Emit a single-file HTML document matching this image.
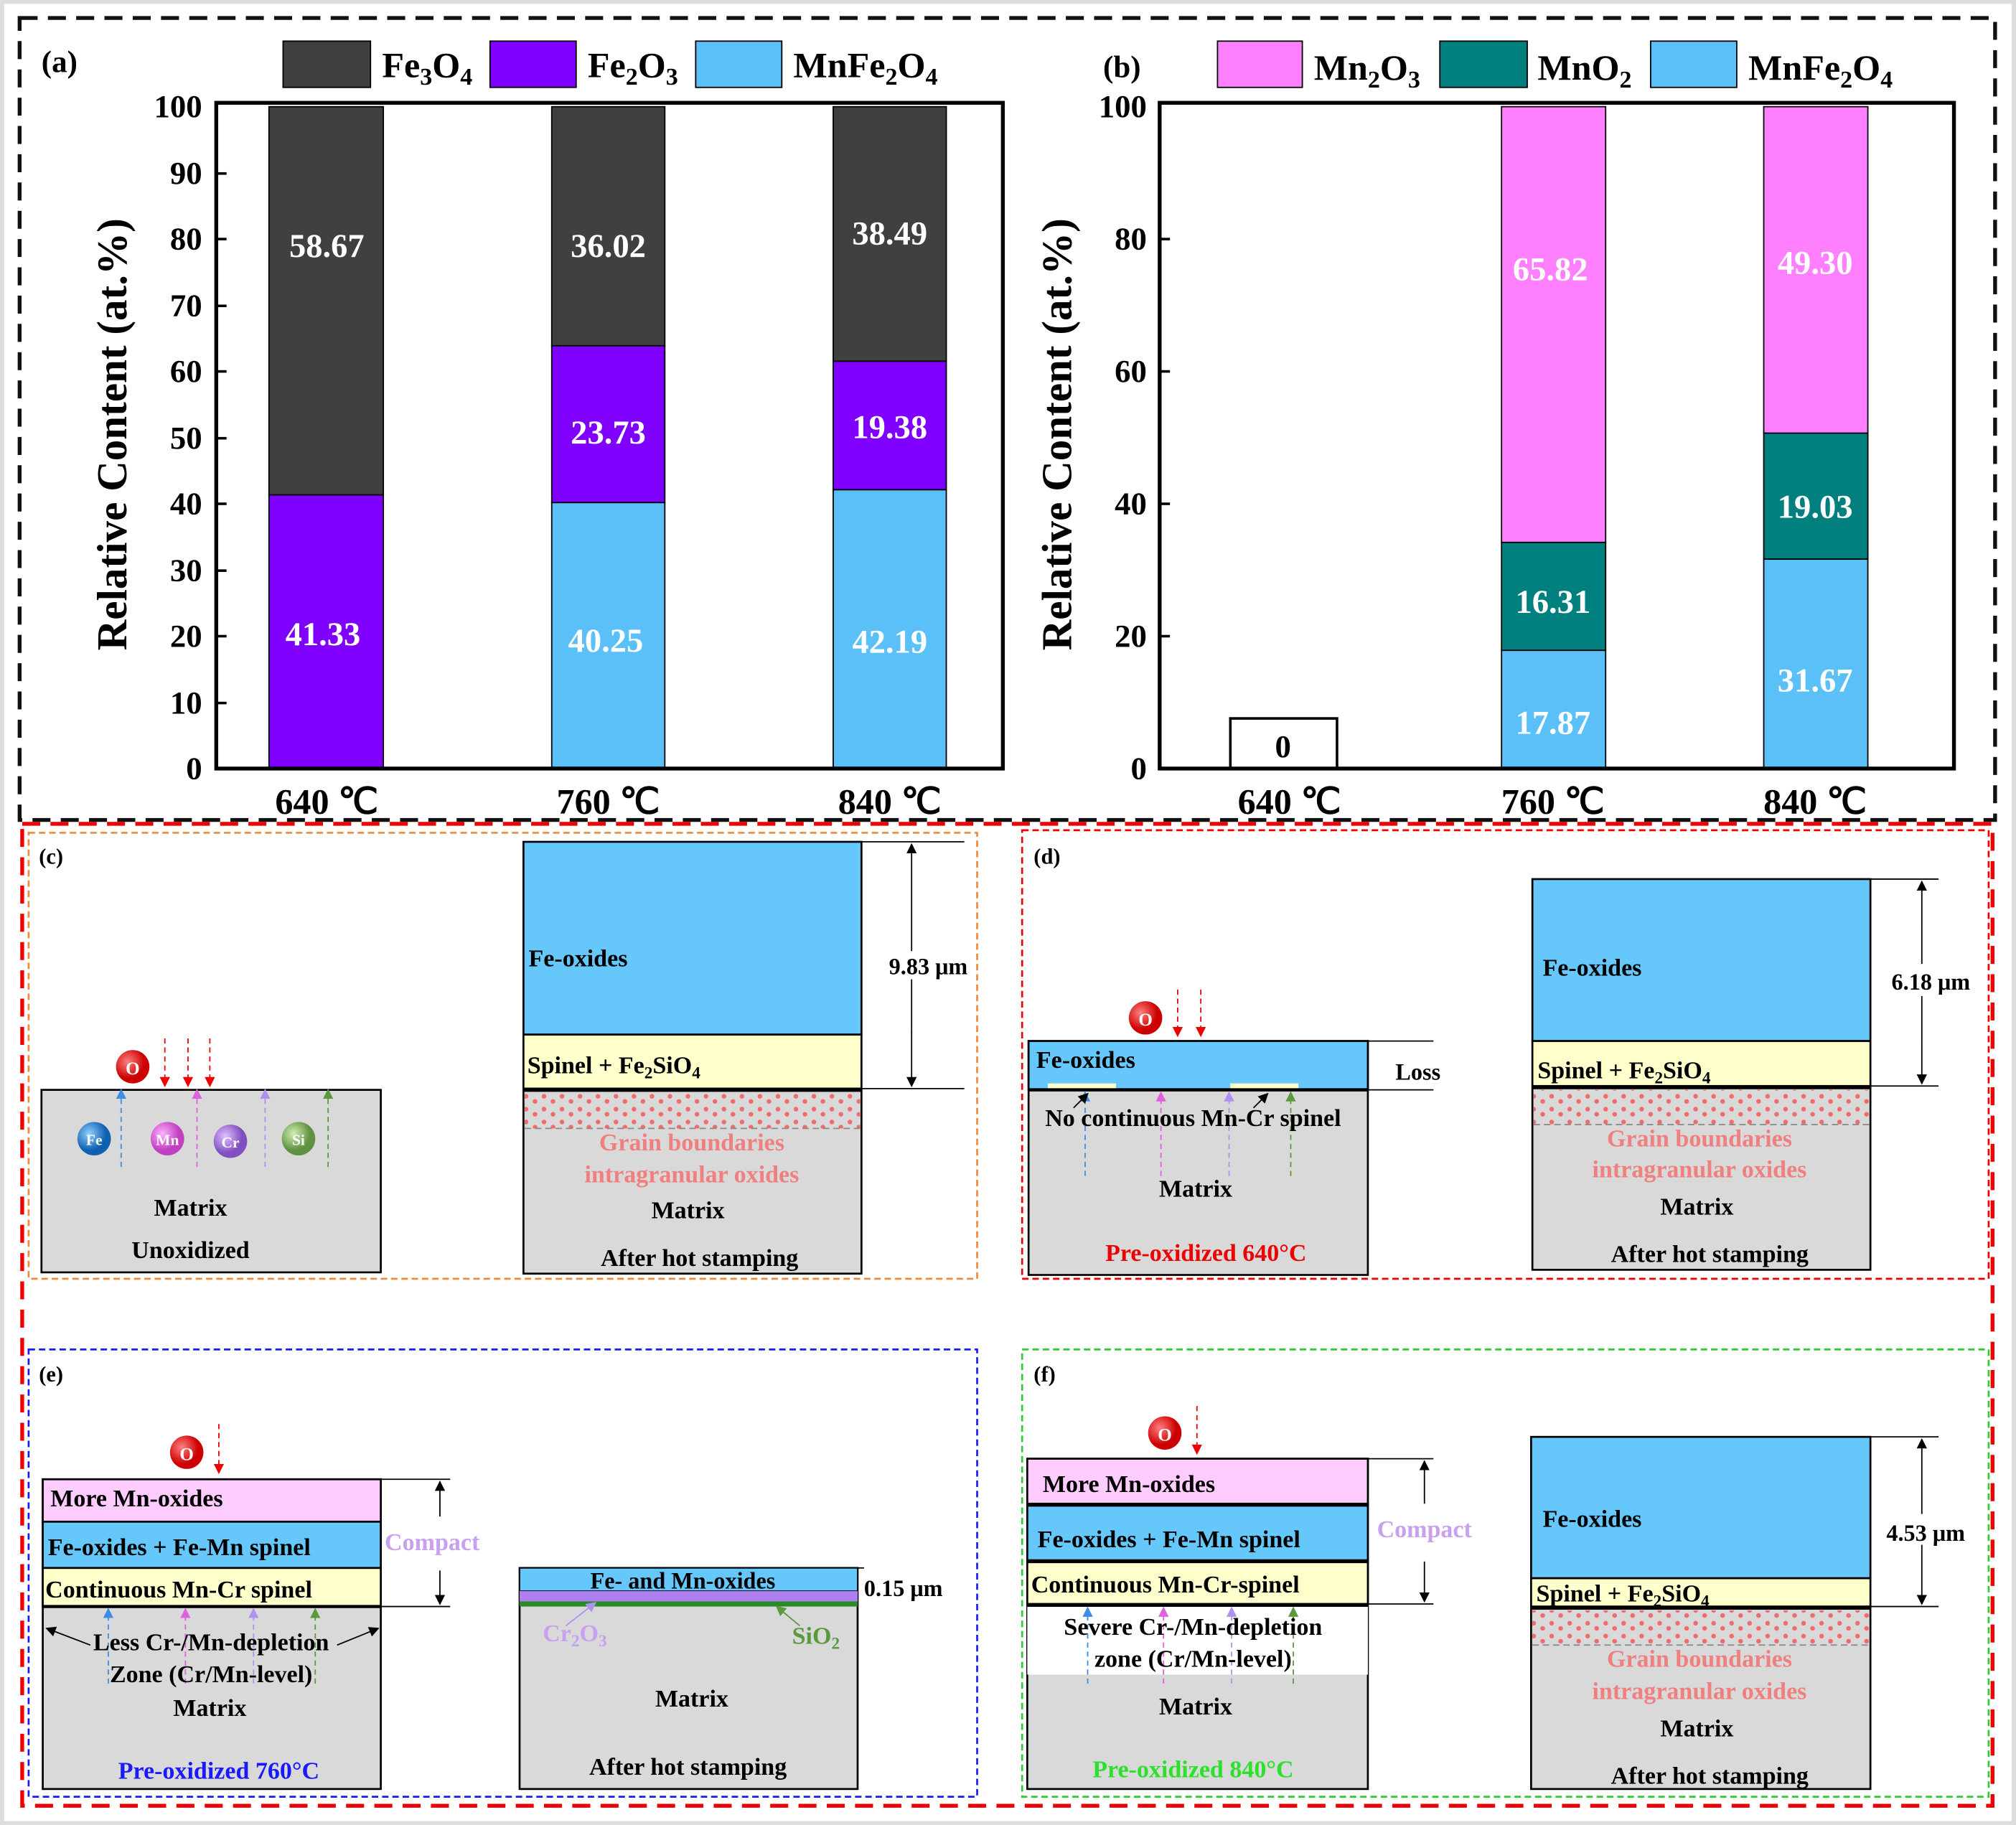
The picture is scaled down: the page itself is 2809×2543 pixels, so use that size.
<!DOCTYPE html>
<html><head><meta charset="utf-8"><style>html,body{margin:0;padding:0;background:#fff}svg{display:block}text{font-family:"Liberation Serif",serif;font-weight:bold}</style></head><body>
<svg width="2809" height="2543" viewBox="0 0 1568 1420" xmlns="http://www.w3.org/2000/svg">
<defs>
<pattern id="dots" width="14" height="10" patternUnits="userSpaceOnUse"><circle cx="3" cy="3" r="1.8" fill="#f06b6b"/><circle cx="10" cy="7" r="1.8" fill="#f06b6b"/></pattern>
<marker id="ak" markerWidth="8" markerHeight="8" refX="7" refY="4" orient="auto" markerUnits="userSpaceOnUse"><path d="M0,0 L8,4 L0,8 z" fill="#000"/></marker>
<marker id="ar" markerWidth="8" markerHeight="8" refX="7" refY="4" orient="auto" markerUnits="userSpaceOnUse"><path d="M0,0 L8,4 L0,8 z" fill="#e00"/></marker>
<marker id="ab" markerWidth="8" markerHeight="8" refX="7" refY="4" orient="auto" markerUnits="userSpaceOnUse"><path d="M0,0 L8,4 L0,8 z" fill="#3a8ee6"/></marker>
<marker id="ap" markerWidth="8" markerHeight="8" refX="7" refY="4" orient="auto" markerUnits="userSpaceOnUse"><path d="M0,0 L8,4 L0,8 z" fill="#e060e0"/></marker>
<marker id="av" markerWidth="8" markerHeight="8" refX="7" refY="4" orient="auto" markerUnits="userSpaceOnUse"><path d="M0,0 L8,4 L0,8 z" fill="#b090f0"/></marker>
<marker id="ag" markerWidth="8" markerHeight="8" refX="7" refY="4" orient="auto" markerUnits="userSpaceOnUse"><path d="M0,0 L8,4 L0,8 z" fill="#5a9a3a"/></marker>
<radialGradient id="gO" cx="35%" cy="35%"><stop offset="0" stop-color="#ff8080"/><stop offset="1" stop-color="#c00"/></radialGradient>
<radialGradient id="gFe" cx="35%" cy="35%"><stop offset="0" stop-color="#8fd0ff"/><stop offset="1" stop-color="#1060b0"/></radialGradient>
<radialGradient id="gMn" cx="35%" cy="35%"><stop offset="0" stop-color="#ffb0ff"/><stop offset="1" stop-color="#c040c0"/></radialGradient>
<radialGradient id="gCr" cx="35%" cy="35%"><stop offset="0" stop-color="#e0c0ff"/><stop offset="1" stop-color="#8050c0"/></radialGradient>
<radialGradient id="gSi" cx="35%" cy="35%"><stop offset="0" stop-color="#d0f0b0"/><stop offset="1" stop-color="#609040"/></radialGradient>
</defs>
<rect x="0" y="0" width="1568" height="1420" fill="#fff" stroke="#ddd" stroke-width="6"/>
<rect x="15" y="14" width="1537" height="624" fill="none" stroke="#111" stroke-width="3" stroke-dasharray="14,8"/>
<rect x="17" y="641" width="1533" height="764" fill="none" stroke="#e00" stroke-width="3" stroke-dasharray="14,8"/>

<g>
<text x="32" y="56" font-size="24">(a)</text>
<rect x="220" y="32" width="68" height="36" fill="#404040" stroke="#000"/><text x="297" y="60" font-size="28">Fe<tspan font-size="19" dy="6">3</tspan><tspan dy="-6">O</tspan><tspan font-size="19" dy="6">4</tspan></text>
<rect x="381" y="32" width="67" height="36" fill="#7f00ff" stroke="#000"/><text x="457" y="60" font-size="28">Fe<tspan font-size="19" dy="6">2</tspan><tspan dy="-6">O</tspan><tspan font-size="19" dy="6">3</tspan></text>
<rect x="541" y="32" width="67" height="36" fill="#5bc0f8" stroke="#000"/><text x="617" y="60" font-size="28">MnFe<tspan font-size="19" dy="6">2</tspan><tspan dy="-6">O</tspan><tspan font-size="19" dy="6">4</tspan></text>
<rect x="209" y="385" width="89" height="213" fill="#7f00ff" stroke="#000"/>
<rect x="209" y="83" width="89" height="302" fill="#404040" stroke="#000"/>
<rect x="429" y="391" width="88" height="207" fill="#5bc0f8" stroke="#000"/>
<rect x="429" y="269" width="88" height="122" fill="#7f00ff" stroke="#000"/>
<rect x="429" y="83" width="88" height="186" fill="#404040" stroke="#000"/>
<rect x="648" y="381" width="88" height="217" fill="#5bc0f8" stroke="#000"/>
<rect x="648" y="281" width="88" height="100" fill="#7f00ff" stroke="#000"/>
<rect x="648" y="83" width="88" height="198" fill="#404040" stroke="#000"/>
<g fill="#fff" font-size="26" text-anchor="middle">
<text x="254" y="200">58.67</text><text x="251" y="502">41.33</text>
<text x="473" y="200">36.02</text><text x="473" y="345">23.73</text><text x="471" y="507">40.25</text>
<text x="692" y="190">38.49</text><text x="692" y="341">19.38</text><text x="692" y="508">42.19</text>
</g>
<rect x="168" y="80" width="612" height="518" fill="none" stroke="#000" stroke-width="3"/>
<g font-size="25" text-anchor="end">
<text x="157" y="606">0</text><text x="157" y="555">10</text><text x="157" y="503">20</text><text x="157" y="452">30</text><text x="157" y="400">40</text><text x="157" y="349">50</text><text x="157" y="297">60</text><text x="157" y="246">70</text><text x="157" y="194">80</text><text x="157" y="143">90</text><text x="157" y="91">100</text>
</g>
<g stroke="#000" stroke-width="2"><line x1="168" y1="547" x2="176" y2="547"/><line x1="168" y1="495" x2="176" y2="495"/><line x1="168" y1="444" x2="176" y2="444"/><line x1="168" y1="392" x2="176" y2="392"/><line x1="168" y1="341" x2="176" y2="341"/><line x1="168" y1="289" x2="176" y2="289"/><line x1="168" y1="238" x2="176" y2="238"/><line x1="168" y1="186" x2="176" y2="186"/><line x1="168" y1="135" x2="176" y2="135"/></g>
<text transform="translate(98,338) rotate(-90)" font-size="33" text-anchor="middle">Relative Content (at.%)</text>
<g font-size="28" text-anchor="middle"><text x="254" y="633">640 ℃</text><text x="473" y="633">760 ℃</text><text x="692" y="633">840 ℃</text></g>
</g>

<g>
<text x="858" y="60" font-size="24">(b)</text>
<rect x="947" y="32" width="66" height="36" fill="#ff80ff" stroke="#000"/><text x="1022" y="62" font-size="28">Mn<tspan font-size="19" dy="6">2</tspan><tspan dy="-6">O</tspan><tspan font-size="19" dy="6">3</tspan></text>
<rect x="1120" y="32" width="68" height="36" fill="#007f7f" stroke="#000"/><text x="1196" y="62" font-size="28">MnO<tspan font-size="19" dy="6">2</tspan></text>
<rect x="1284" y="32" width="67" height="36" fill="#5bc0f8" stroke="#000"/><text x="1360" y="62" font-size="28">MnFe<tspan font-size="19" dy="6">2</tspan><tspan dy="-6">O</tspan><tspan font-size="19" dy="6">4</tspan></text>
<rect x="957" y="559" width="83" height="39" fill="#fff" stroke="#000" stroke-width="2"/>
<text x="998" y="589" font-size="25" text-anchor="middle">0</text>
<rect x="1168" y="506" width="81" height="92" fill="#5bc0f8" stroke="#000"/>
<rect x="1168" y="422" width="81" height="84" fill="#007f7f" stroke="#000"/>
<rect x="1168" y="83" width="81" height="339" fill="#ff80ff" stroke="#000"/>
<rect x="1372" y="435" width="81" height="163" fill="#5bc0f8" stroke="#000"/>
<rect x="1372" y="337" width="81" height="98" fill="#007f7f" stroke="#000"/>
<rect x="1372" y="83" width="81" height="254" fill="#ff80ff" stroke="#000"/>
<g fill="#fff" font-size="26" text-anchor="middle">
<text x="1206" y="218">65.82</text><text x="1208" y="477">16.31</text><text x="1208" y="571">17.87</text>
<text x="1412" y="213">49.30</text><text x="1412" y="403">19.03</text><text x="1412" y="538">31.67</text>
</g>
<rect x="902" y="80" width="618" height="518" fill="none" stroke="#000" stroke-width="3"/>
<g font-size="25" text-anchor="end">
<text x="892" y="606">0</text><text x="892" y="503">20</text><text x="892" y="400">40</text><text x="892" y="297">60</text><text x="892" y="194">80</text><text x="892" y="91">100</text>
</g>
<g stroke="#000" stroke-width="2"><line x1="902" y1="495" x2="910" y2="495"/><line x1="902" y1="392" x2="910" y2="392"/><line x1="902" y1="289" x2="910" y2="289"/><line x1="902" y1="186" x2="910" y2="186"/></g>
<text transform="translate(833,338) rotate(-90)" font-size="33" text-anchor="middle">Relative Content (at.%)</text>
<g font-size="28" text-anchor="middle"><text x="1003" y="633">640 ℃</text><text x="1208" y="633">760 ℃</text><text x="1412" y="633">840 ℃</text></g>
</g>

<rect x="22" y="648" width="738" height="347" fill="none" stroke="#f08a3a" stroke-width="1.5" stroke-dasharray="5,3"/>
<rect x="795" y="646" width="752" height="349" fill="none" stroke="#e00" stroke-width="1.5" stroke-dasharray="5,3"/>
<rect x="22" y="1050" width="738" height="348" fill="none" stroke="#1a1aff" stroke-width="1.5" stroke-dasharray="5,3"/>
<rect x="795" y="1050" width="752" height="348" fill="none" stroke="#2ecc2e" stroke-width="1.5" stroke-dasharray="5,3"/>

<g font-size="19">
<text x="30" y="672" font-size="17">(c)</text>
<rect x="32" y="848" width="264" height="142" fill="#d9d9d9" stroke="#000" stroke-width="1.5"/>
<circle cx="73" cy="886" r="13" fill="url(#gFe)"/><text x="73" y="891" font-size="12" fill="#fff" text-anchor="middle">Fe</text>
<circle cx="130" cy="886" r="13" fill="url(#gMn)"/><text x="130" y="891" font-size="12" fill="#fff" text-anchor="middle">Mn</text>
<circle cx="179" cy="888" r="13" fill="url(#gCr)"/><text x="179" y="893" font-size="12" fill="#fff" text-anchor="middle">Cr</text>
<circle cx="232" cy="886" r="13" fill="url(#gSi)"/><text x="232" y="891" font-size="12" fill="#fff" text-anchor="middle">Si</text>
<line x1="94" y1="908" x2="94" y2="848" stroke="#3a8ee6" stroke-dasharray="4,3" marker-end="url(#ab)"/>
<line x1="153" y1="908" x2="153" y2="848" stroke="#e060e0" stroke-dasharray="4,3" marker-end="url(#ap)"/>
<line x1="206" y1="908" x2="206" y2="848" stroke="#b090f0" stroke-dasharray="4,3" marker-end="url(#av)"/>
<line x1="255" y1="908" x2="255" y2="848" stroke="#5a9a3a" stroke-dasharray="4,3" marker-end="url(#ag)"/>
<circle cx="103" cy="830" r="13" fill="url(#gO)"/><text x="103" y="836" font-size="14" fill="#fff" text-anchor="middle">O</text>
<g stroke="#e00" stroke-dasharray="4,3"><line x1="128" y1="808" x2="128" y2="845" marker-end="url(#ar)"/><line x1="146" y1="808" x2="146" y2="845" marker-end="url(#ar)"/><line x1="163" y1="808" x2="163" y2="845" marker-end="url(#ar)"/></g>
<text x="148" y="946" text-anchor="middle">Matrix</text><text x="148" y="979" text-anchor="middle">Unoxidized</text>

<rect x="407" y="655" width="263" height="150" fill="#66c8fa" stroke="#000" stroke-width="1.5"/>
<rect x="407" y="805" width="263" height="42" fill="#ffffcc" stroke="#000" stroke-width="1.5"/>
<rect x="407" y="848" width="263" height="143" fill="#d9d9d9" stroke="#000" stroke-width="1.5"/>
<rect x="408" y="850" width="261" height="28" fill="url(#dots)"/>
<line x1="408" y1="878" x2="669" y2="878" stroke="#888" stroke-dasharray="5,3"/>
<line x1="407" y1="848" x2="670" y2="848" stroke="#000" stroke-width="3"/>
<text x="411" y="752">Fe-oxides</text>
<text x="410" y="835">Spinel + Fe<tspan font-size="13" dy="4">2</tspan><tspan dy="-4">SiO</tspan><tspan font-size="13" dy="4">4</tspan></text>
<text x="538" y="895" fill="#f08080" text-anchor="middle">Grain boundaries</text>
<text x="538" y="920" fill="#f08080" text-anchor="middle">intragranular oxides</text>
<text x="535" y="948" text-anchor="middle">Matrix</text><text x="544" y="985" text-anchor="middle">After hot stamping</text>
<line x1="670" y1="655" x2="750" y2="655" stroke="#000"/><line x1="670" y1="847" x2="750" y2="847" stroke="#000"/>
<line x1="709" y1="700" x2="709" y2="657" stroke="#000" marker-end="url(#ak)"/><line x1="709" y1="800" x2="709" y2="845" stroke="#000" marker-end="url(#ak)"/>
<line x1="709" y1="700" x2="709" y2="740" stroke="#000"/><line x1="709" y1="762" x2="709" y2="800" stroke="#000"/>
<text x="722" y="758" font-size="18" text-anchor="middle">9.83 μm</text>

<text x="804" y="672" font-size="17">(d)</text>
<rect x="800" y="810" width="264" height="182" fill="#d9d9d9" stroke="#000" stroke-width="1.5"/>
<rect x="800" y="810" width="264" height="38" fill="#66c8fa" stroke="#000" stroke-width="1.5"/>
<rect x="815" y="843" width="53" height="5" fill="#ffffcc"/><rect x="957" y="843" width="53" height="5" fill="#ffffcc"/>
<line x1="800" y1="848" x2="1064" y2="848" stroke="#000" stroke-width="2.5"/>
<line x1="1064" y1="810" x2="1115" y2="810" stroke="#000"/><line x1="1064" y1="848" x2="1115" y2="848" stroke="#000"/>
<text x="1103" y="840" font-size="18" text-anchor="middle">Loss</text>
<text x="806" y="831">Fe-oxides</text>
<line x1="844" y1="915" x2="844" y2="850" stroke="#3a8ee6" stroke-dasharray="4,3" marker-end="url(#ab)"/>
<line x1="903" y1="915" x2="903" y2="850" stroke="#e060e0" stroke-dasharray="4,3" marker-end="url(#ap)"/>
<line x1="956" y1="915" x2="956" y2="850" stroke="#b090f0" stroke-dasharray="4,3" marker-end="url(#av)"/>
<line x1="1004" y1="915" x2="1004" y2="850" stroke="#5a9a3a" stroke-dasharray="4,3" marker-end="url(#ag)"/>
<line x1="835" y1="862" x2="846" y2="851" stroke="#000" marker-end="url(#ak)"/><line x1="975" y1="862" x2="986" y2="851" stroke="#000" marker-end="url(#ak)"/>
<text x="928" y="876" text-anchor="middle">No continuous Mn-Cr spinel</text>
<text x="930" y="931" text-anchor="middle">Matrix</text>
<text x="938" y="981" fill="#e00" text-anchor="middle">Pre-oxidized 640°C</text>
<circle cx="891" cy="792" r="13" fill="url(#gO)"/><text x="891" y="798" font-size="14" fill="#fff" text-anchor="middle">O</text>
<g stroke="#e00" stroke-dasharray="4,3"><line x1="916" y1="770" x2="916" y2="806" marker-end="url(#ar)"/><line x1="934" y1="770" x2="934" y2="806" marker-end="url(#ar)"/></g>

<rect x="1192" y="684" width="263" height="126" fill="#66c8fa" stroke="#000" stroke-width="1.5"/>
<rect x="1192" y="810" width="263" height="35" fill="#ffffcc" stroke="#000" stroke-width="1.5"/>
<rect x="1192" y="846" width="263" height="142" fill="#d9d9d9" stroke="#000" stroke-width="1.5"/>
<rect x="1193" y="848" width="261" height="27" fill="url(#dots)"/>
<line x1="1193" y1="875" x2="1454" y2="875" stroke="#888" stroke-dasharray="5,3"/>
<line x1="1192" y1="846" x2="1455" y2="846" stroke="#000" stroke-width="3"/>
<text x="1200" y="759">Fe-oxides</text>
<text x="1196" y="839">Spinel + Fe<tspan font-size="13" dy="4">2</tspan><tspan dy="-4">SiO</tspan><tspan font-size="13" dy="4">4</tspan></text>
<text x="1322" y="892" fill="#f08080" text-anchor="middle">Grain boundaries</text>
<text x="1322" y="916" fill="#f08080" text-anchor="middle">intragranular oxides</text>
<text x="1320" y="945" text-anchor="middle">Matrix</text><text x="1330" y="982" text-anchor="middle">After hot stamping</text>
<line x1="1455" y1="684" x2="1508" y2="684" stroke="#000"/><line x1="1455" y1="845" x2="1508" y2="845" stroke="#000"/>
<line x1="1495" y1="720" x2="1495" y2="686" stroke="#000" marker-end="url(#ak)"/><line x1="1495" y1="810" x2="1495" y2="843" stroke="#000" marker-end="url(#ak)"/><line x1="1495" y1="720" x2="1495" y2="750" stroke="#000"/><line x1="1495" y1="775" x2="1495" y2="810" stroke="#000"/>
<text x="1502" y="770" font-size="18" text-anchor="middle">6.18 μm</text>

<text x="30" y="1075" font-size="17">(e)</text>
<rect x="33" y="1151" width="263" height="241" fill="#d9d9d9" stroke="#000" stroke-width="1.5"/>
<rect x="33" y="1151" width="263" height="33" fill="#ffccff" stroke="#000" stroke-width="1.5"/>
<rect x="33" y="1184" width="263" height="36" fill="#66c8fa" stroke="#000" stroke-width="1.5"/>
<rect x="33" y="1220" width="263" height="30" fill="#ffffcc" stroke="#000" stroke-width="1.5"/>
<line x1="33" y1="1250" x2="296" y2="1250" stroke="#000" stroke-width="2.5"/>
<text x="39" y="1172">More Mn-oxides</text>
<text x="37" y="1210">Fe-oxides + Fe-Mn spinel</text>
<text x="35" y="1243">Continuous Mn-Cr spinel</text>
<line x1="84" y1="1310" x2="84" y2="1252" stroke="#3a8ee6" stroke-dasharray="4,3" marker-end="url(#ab)"/>
<line x1="144" y1="1310" x2="144" y2="1252" stroke="#e060e0" stroke-dasharray="4,3" marker-end="url(#ap)"/>
<line x1="197" y1="1310" x2="197" y2="1252" stroke="#b090f0" stroke-dasharray="4,3" marker-end="url(#av)"/>
<line x1="245" y1="1310" x2="245" y2="1252" stroke="#5a9a3a" stroke-dasharray="4,3" marker-end="url(#ag)"/>
<line x1="70" y1="1280" x2="36" y2="1267" stroke="#000" marker-end="url(#ak)"/><line x1="262" y1="1280" x2="294" y2="1267" stroke="#000" marker-end="url(#ak)"/>
<text x="164" y="1284" text-anchor="middle">Less Cr-/Mn-depletion</text>
<text x="164" y="1309" text-anchor="middle">Zone (Cr/Mn-level)</text>
<text x="163" y="1335" text-anchor="middle">Matrix</text>
<text x="170" y="1384" fill="#1a1aff" text-anchor="middle">Pre-oxidized 760°C</text>
<circle cx="145" cy="1130" r="13" fill="url(#gO)"/><text x="145" y="1136" font-size="14" fill="#fff" text-anchor="middle">O</text>
<line x1="170" y1="1108" x2="170" y2="1146" stroke="#e00" stroke-dasharray="4,3" marker-end="url(#ar)"/>
<line x1="296" y1="1151" x2="350" y2="1151" stroke="#000"/><line x1="296" y1="1250" x2="350" y2="1250" stroke="#000"/>
<line x1="342" y1="1180" x2="342" y2="1153" stroke="#000" marker-end="url(#ak)"/><line x1="342" y1="1222" x2="342" y2="1248" stroke="#000" marker-end="url(#ak)"/>
<text x="336" y="1206" fill="#c8a0f0" text-anchor="middle">Compact</text>

<rect x="404" y="1220" width="263" height="172" fill="#d9d9d9" stroke="#000" stroke-width="1.5"/>
<rect x="404" y="1220" width="263" height="18" fill="#66c8fa" stroke="#000" stroke-width="1"/>
<rect x="404" y="1238" width="263" height="8" fill="#b080f0"/>
<rect x="404" y="1246" width="263" height="4" fill="#2a8a2a"/>
<text x="531" y="1236" font-size="18" text-anchor="middle">Fe- and Mn-oxides</text>
<text x="672" y="1242" font-size="18">0.15 μm</text>
<line x1="667" y1="1220" x2="672" y2="1220" stroke="#000"/>
<line x1="440" y1="1265" x2="463" y2="1247" stroke="#b090f0" marker-end="url(#av)"/>
<line x1="622" y1="1265" x2="604" y2="1250" stroke="#5a9a3a" marker-end="url(#ag)"/>
<text x="422" y="1277" fill="#c8a0f0">Cr<tspan font-size="13" dy="4">2</tspan><tspan dy="-4">O</tspan><tspan font-size="13" dy="4">3</tspan></text>
<text x="616" y="1279" fill="#5a9a3a">SiO<tspan font-size="13" dy="4">2</tspan></text>
<text x="538" y="1328" text-anchor="middle">Matrix</text><text x="535" y="1381" text-anchor="middle">After hot stamping</text>

<text x="804" y="1075" font-size="17">(f)</text>
<rect x="799" y="1135" width="265" height="257" fill="#d9d9d9" stroke="#000" stroke-width="1.5"/>
<rect x="799" y="1250" width="265" height="53" fill="#fff"/>
<rect x="799" y="1135" width="265" height="35" fill="#ffccff" stroke="#000" stroke-width="1.5"/>
<rect x="799" y="1171" width="265" height="43" fill="#66c8fa" stroke="#000" stroke-width="1.5"/>
<rect x="799" y="1215" width="265" height="33" fill="#ffffcc" stroke="#000" stroke-width="1.5"/>
<line x1="799" y1="1249" x2="1064" y2="1249" stroke="#000" stroke-width="2.5"/>
<line x1="799" y1="1171" x2="1064" y2="1171" stroke="#000" stroke-width="2.5"/>
<line x1="799" y1="1215" x2="1064" y2="1215" stroke="#000" stroke-width="2.5"/>
<text x="811" y="1161">More Mn-oxides</text>
<text x="807" y="1204">Fe-oxides + Fe-Mn spinel</text>
<text x="802" y="1239">Continuous Mn-Cr-spinel</text>
<line x1="846" y1="1310" x2="846" y2="1251" stroke="#3a8ee6" stroke-dasharray="4,3" marker-end="url(#ab)"/>
<line x1="905" y1="1310" x2="905" y2="1251" stroke="#e060e0" stroke-dasharray="4,3" marker-end="url(#ap)"/>
<line x1="958" y1="1310" x2="958" y2="1251" stroke="#b090f0" stroke-dasharray="4,3" marker-end="url(#av)"/>
<line x1="1006" y1="1310" x2="1006" y2="1251" stroke="#5a9a3a" stroke-dasharray="4,3" marker-end="url(#ag)"/>
<text x="928" y="1272" text-anchor="middle">Severe Cr-/Mn-depletion</text>
<text x="928" y="1297" text-anchor="middle">zone (Cr/Mn-level)</text>
<text x="930" y="1334" text-anchor="middle">Matrix</text>
<text x="928" y="1383" fill="#2ee02e" text-anchor="middle">Pre-oxidized 840°C</text>
<circle cx="906" cy="1115" r="13" fill="url(#gO)"/><text x="906" y="1121" font-size="14" fill="#fff" text-anchor="middle">O</text>
<line x1="931" y1="1094" x2="931" y2="1131" stroke="#e00" stroke-dasharray="4,3" marker-end="url(#ar)"/>
<line x1="1064" y1="1135" x2="1115" y2="1135" stroke="#000"/><line x1="1064" y1="1248" x2="1115" y2="1248" stroke="#000"/>
<line x1="1108" y1="1170" x2="1108" y2="1137" stroke="#000" marker-end="url(#ak)"/><line x1="1108" y1="1215" x2="1108" y2="1246" stroke="#000" marker-end="url(#ak)"/>
<text x="1108" y="1196" fill="#c8a0f0" text-anchor="middle">Compact</text>

<rect x="1191" y="1118" width="264" height="110" fill="#66c8fa" stroke="#000" stroke-width="1.5"/>
<rect x="1191" y="1228" width="264" height="22" fill="#ffffcc" stroke="#000" stroke-width="1.5"/>
<rect x="1191" y="1251" width="264" height="141" fill="#d9d9d9" stroke="#000" stroke-width="1.5"/>
<rect x="1192" y="1253" width="262" height="27" fill="url(#dots)"/>
<line x1="1192" y1="1280" x2="1454" y2="1280" stroke="#888" stroke-dasharray="5,3"/>
<line x1="1191" y1="1251" x2="1455" y2="1251" stroke="#000" stroke-width="3"/>
<text x="1200" y="1188">Fe-oxides</text>
<text x="1195" y="1246">Spinel + Fe<tspan font-size="13" dy="4">2</tspan><tspan dy="-4">SiO</tspan><tspan font-size="13" dy="4">4</tspan></text>
<text x="1322" y="1297" fill="#f08080" text-anchor="middle">Grain boundaries</text>
<text x="1322" y="1322" fill="#f08080" text-anchor="middle">intragranular oxides</text>
<text x="1320" y="1351" text-anchor="middle">Matrix</text><text x="1330" y="1388" text-anchor="middle">After hot stamping</text>
<line x1="1455" y1="1118" x2="1508" y2="1118" stroke="#000"/><line x1="1455" y1="1250" x2="1508" y2="1250" stroke="#000"/>
<line x1="1495" y1="1160" x2="1495" y2="1120" stroke="#000" marker-end="url(#ak)"/><line x1="1495" y1="1210" x2="1495" y2="1248" stroke="#000" marker-end="url(#ak)"/><line x1="1495" y1="1160" x2="1495" y2="1178" stroke="#000"/><line x1="1495" y1="1202" x2="1495" y2="1210" stroke="#000"/>
<text x="1498" y="1199" font-size="18" text-anchor="middle">4.53 μm</text>
</g>
</svg>
</body></html>
